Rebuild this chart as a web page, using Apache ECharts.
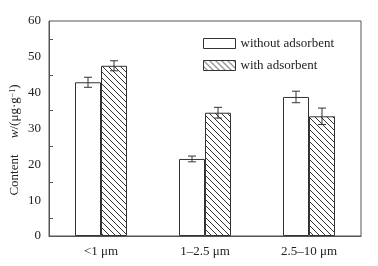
<!DOCTYPE html>
<html>
<head>
<meta charset="utf-8">
<script src="https://cdn.jsdelivr.net/npm/echarts@6/dist/echarts.min.js"></script>
<style>
  html, body { margin: 0; padding: 0; background: #fff; }
  #chart { width: 378px; height: 266px; }
</style>
</head>
<body>
<div id="chart"></div>
<script>
  // data
  var categories = ['<1 \u03bcm', '1\u20132.5 \u03bcm', '2.5\u201310 \u03bcm'];
  var withoutAds = [42.9, 21.5, 38.8];
  var withoutErr = [1.4, 0.8, 1.6];
  var withAds = [47.5, 34.4, 33.4];
  var withErr = [1.4, 1.5, 2.3];
  var yTicks = [0, 10, 20, 30, 40, 50, 60];

  var serif = '"Liberation Serif", "Times New Roman", serif';
  var lineCol = '#555';
  var barEdge = '#333';

  // hatch pattern "\\\\"
  function hatch () {
    var c = document.createElement('canvas');
    c.width = 6; c.height = 6;
    var g = c.getContext('2d');
    g.fillStyle = '#fff';
    g.fillRect(0, 0, 6, 6);
    g.strokeStyle = '#333';
    g.lineWidth = 1;
    g.beginPath();
    g.moveTo(-1, -1); g.lineTo(7, 7);
    g.moveTo(-1, 5); g.lineTo(1, 7);
    g.moveTo(5, -1); g.lineTo(7, 1);
    g.stroke();
    return c;
  }

  function errSeries (vals, errs, side) {
    return {
      type: 'custom',
      silent: true,
      z: 5,
      data: vals.map(function (v, i) { return [i, v, errs[i]]; }),
      renderItem: function (params, api) {
        var i = api.value(0), v = api.value(1), e = api.value(2);
        var band = api.size([1, 0])[0];
        var dx = side * band / 8;
        var hi = api.coord([i, v + e]);
        var lo = api.coord([i, v - e]);
        var x = hi[0] + dx, cap = 4;
        var st = { stroke: '#333', lineWidth: 1 };
        return {
          type: 'group',
          children: [
            { type: 'line', shape: { x1: x, y1: hi[1], x2: x, y2: lo[1] }, style: st },
            { type: 'line', shape: { x1: x - cap, y1: hi[1], x2: x + cap, y2: hi[1] }, style: st },
            { type: 'line', shape: { x1: x - cap, y1: lo[1], x2: x + cap, y2: lo[1] }, style: st }
          ]
        };
      }
    };
  }

  var chart = echarts.init(document.getElementById('chart'), null, { renderer: 'canvas' });
  chart.setOption({
    animation: false,
    backgroundColor: '#fff',
    grid: {
      left: 49, right: 17, top: 21, bottom: 30,
      show: true, borderColor: lineCol, borderWidth: 1, backgroundColor: 'transparent'
    },
    legend: {
      orient: 'vertical',
      left: 203, top: 37,
      padding: 0,
      icon: 'rect',
      itemWidth: 32, itemHeight: 10, itemGap: 9,
      data: ['without adsorbent', 'with adsorbent'],
      itemStyle: { borderWidth: 1, borderColor: barEdge },
      textStyle: { fontFamily: serif, fontSize: 13, color: '#222' }
    },
    xAxis: {
      type: 'category',
      data: categories,
      axisLine: { lineStyle: { color: lineCol } },
      axisTick: { inside: true, length: 3, lineStyle: { color: lineCol } },
      axisLabel: { fontFamily: serif, fontSize: 13, color: '#222', margin: 9 }
    },
    yAxis: {
      type: 'value',
      min: 0, max: 60, interval: 10,
      axisLine: { show: true, lineStyle: { color: lineCol } },
      axisTick: { inside: true, length: 5, lineStyle: { color: lineCol } },
      minorTick: { show: true, splitNumber: 2, length: 4, lineStyle: { color: lineCol } },
      splitLine: { show: false },
      axisLabel: {
        fontFamily: serif, fontSize: 13, color: '#222', margin: 8,
        formatter: function (v) { return yTicks.indexOf(v) >= 0 ? String(v) : ''; }
      }
    },
    graphic: [{
      type: 'text',
      x: 15, y: 140,
      rotation: Math.PI / 2,
      style: {
        text: '{a|Content}     {i|w}{a|/(\u03bcg\u00b7g}{s|\u22121}{a|)}',
        textAlign: 'center',
        textVerticalAlign: 'middle',
        rich: {
          a: { fontFamily: serif, fontSize: 13, fill: '#222' },
          i: { fontFamily: serif, fontSize: 13, fontStyle: 'italic', fill: '#222' },
          s: { fontFamily: serif, fontSize: 8, fill: '#222', verticalAlign: 'top' }
        },
        fontFamily: serif, fontSize: 13, fill: '#222'
      }
    }],
    series: [
      {
        name: 'without adsorbent',
        type: 'bar',
        data: withoutAds,
        barWidth: 26,
        barGap: '0%',
        itemStyle: { color: '#fff', borderColor: barEdge, borderWidth: 1 }
      },
      {
        name: 'with adsorbent',
        type: 'bar',
        data: withAds,
        barWidth: 26,
        barGap: '0%',
        itemStyle: { color: { image: hatch(), repeat: 'repeat' }, borderColor: barEdge, borderWidth: 1 }
      },
      errSeries(withoutAds, withoutErr, -1),
      errSeries(withAds, withErr, 1)
    ]
  });
</script>
</body>
</html>
